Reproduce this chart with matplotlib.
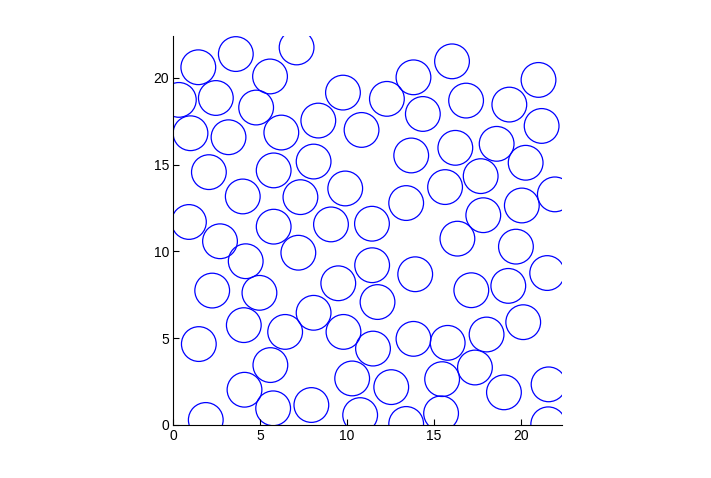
import matplotlib
matplotlib.use('Agg')
import matplotlib.pyplot as plt
from matplotlib.patches import Circle
import numpy as np

# circle centres, radius 1
cx = [1.44, 3.6, 7.1, 5.57, 0.32, 2.45, 4.77, 9.77, 0.99, 3.18,
      6.22, 8.35, 10.84, 2.05, 5.78, 8.08, 0.9, 4.0, 7.32, 9.9,
      2.69, 5.78, 9.08, 11.44, 16.05, 13.83, 21.03, 12.3, 16.86, 19.35,
      14.37, 21.21, 18.62, 13.7, 16.24, 17.7, 20.29, 15.65, 21.97, 13.41,
      20.07, 17.85, 16.36, 19.73, 4.17, 7.2, 2.24, 4.96, 9.5, 11.45,
      11.76, 8.08, 4.06, 6.44, 9.8, 1.47, 5.59, 11.5, 10.3, 4.1,
      5.75, 7.95, 1.87, 10.76, 13.93, 21.53, 17.16, 19.29, 20.15, 13.83,
      15.8, 18.04, 17.37, 15.48, 12.55, 19.04, 21.61, 15.42, 13.41, 21.59]
cy = [20.6, 21.36, 21.74, 20.07, 18.72, 18.83, 18.28, 19.14, 16.8, 16.57,
      16.84, 17.53, 16.99, 14.56, 14.66, 15.17, 11.69, 13.16, 13.12, 13.62,
      10.58, 11.42, 11.55, 11.59, 20.94, 20.02, 19.87, 18.78, 18.68, 18.45,
      17.91, 17.22, 16.19, 15.52, 15.96, 14.33, 15.1, 13.7, 13.28, 12.78,
      12.64, 12.08, 10.73, 10.27, 9.43, 9.92, 7.74, 7.61, 8.16, 9.2,
      7.08, 6.46, 5.75, 5.36, 5.36, 4.66, 3.45, 4.4, 2.68, 2.03,
      0.96, 1.15, 0.29, 0.57, 8.68, 8.75, 7.76, 8.01, 5.92, 4.96,
      4.73, 5.21, 3.31, 2.64, 2.18, 1.88, 2.34, 0.67, 0.06, 0.04]
radius = 1.0

ticks = [0, 5, 10, 15, 20]
tick_labels = ['0', '5', '10', '15', '20']
lim = 22.4

plt.rcParams['font.family'] = ['Liberation Sans', 'DejaVu Sans']

fig = plt.figure(figsize=(7.11, 4.78), dpi=100)
ax = fig.add_axes([0.2433, 0.1109, 0.548, 0.8138])

for x, y in zip(cx, cy):
    ax.add_patch(Circle((x, y), radius, fill=False, edgecolor='#0000ff', linewidth=0.9))

ax.set_xlim(0, lim)
ax.set_ylim(0, lim)
ax.set_aspect('equal')
ax.set_xticks(ticks)
ax.set_xticklabels(tick_labels)
ax.set_yticks(ticks)
ax.set_yticklabels(tick_labels)
ax.tick_params(direction='in', length=4, width=0.8, labelsize=10, pad=3)
ax.spines['top'].set_visible(False)
ax.spines['right'].set_visible(False)

fig.savefig('out.png', dpi=100)
